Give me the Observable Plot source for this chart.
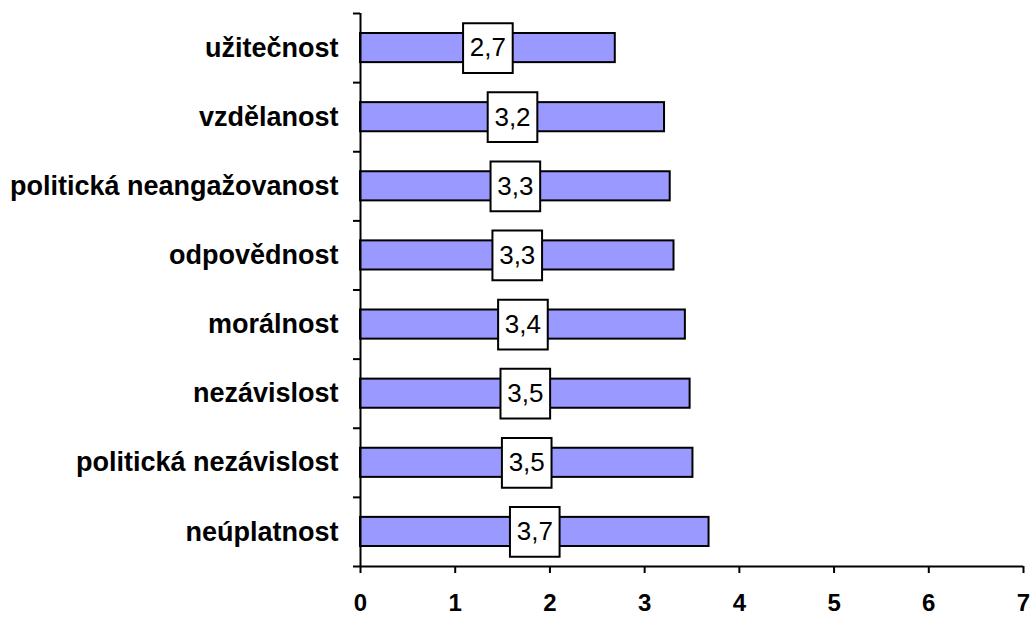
<!DOCTYPE html>
<html>
<head>
<meta charset="utf-8">
<script src="https://cdn.jsdelivr.net/npm/d3@7"></script>
<script src="https://cdn.jsdelivr.net/npm/@observablehq/plot@0.6"></script>
<style>
  html, body { margin: 0; padding: 0; background: #fff; }
  #chart svg { display: block; }
</style>
</head>
<body>
<div id="chart"></div>
<script>
const categories = ["užitečnost", "vzdělanost", "politická neangažovanost", "odpovědnost", "morálnost", "nezávislost", "politická nezávislost", "neúplatnost"];
const values = [2.69, 3.21, 3.27, 3.31, 3.43, 3.48, 3.51, 3.68];
const valueLabels = ["2,7", "3,2", "3,3", "3,3", "3,4", "3,5", "3,5", "3,7"];
const xTicks = [0, 1, 2, 3, 4, 5, 6, 7];

const data = categories.map((c, i) => ({cat: c, i, value: values[i], label: valueLabels[i]}));
const font = "'Liberation Sans', Arial, Helvetica, sans-serif";

const chart = Plot.plot({
  width: 1035,
  height: 619,
  marginLeft: 360,
  marginRight: 12,
  marginTop: 13,
  marginBottom: 53,
  style: {fontFamily: font, background: "#fff", color: "#000"},
  x: {domain: [0, 7], ticks: xTicks, label: null},
  y: {domain: [0, categories.length], reverse: true, label: null},
  marks: [
    Plot.rect(data, {x1: 0, x2: "value", y1: "i", y2: d => d.i + 1, insetTop: 20, insetBottom: 20, fill: "#9999FF", stroke: "#000", strokeWidth: 2}),
    Plot.dot(data, {x: d => d.value / 2, y: d => d.i + 0.5, symbol: "square", r: 28, fill: "#fff", stroke: "#000", strokeWidth: 2}),
    Plot.text(data, {x: d => d.value / 2, y: d => d.i + 0.5, text: "label", fontSize: 26, fill: "#000"}),
    Plot.text(data, {x: 0, y: d => d.i + 0.5, text: "cat", textAnchor: "end", dx: -22, fontSize: 27, fontWeight: "bold", fill: "#000"}),
    Plot.axisX({ticks: xTicks, tickSize: 7, tickPadding: 20, fontSize: 24, fontWeight: "bold", strokeWidth: 2, label: null, tickFormat: d => String(d)}),
    Plot.axisY({ticks: d3.range(0, categories.length + 1), tickSize: 7, tickFormat: () => "", strokeWidth: 2, label: null}),
    Plot.ruleX([0], {y1: 0, y2: categories.length, stroke: "#000", strokeWidth: 2}),
    Plot.ruleY([categories.length], {x1: 0, x2: 7, stroke: "#000", strokeWidth: 2})
  ]
});
document.getElementById("chart").appendChild(chart);
</script>
</body>
</html>
